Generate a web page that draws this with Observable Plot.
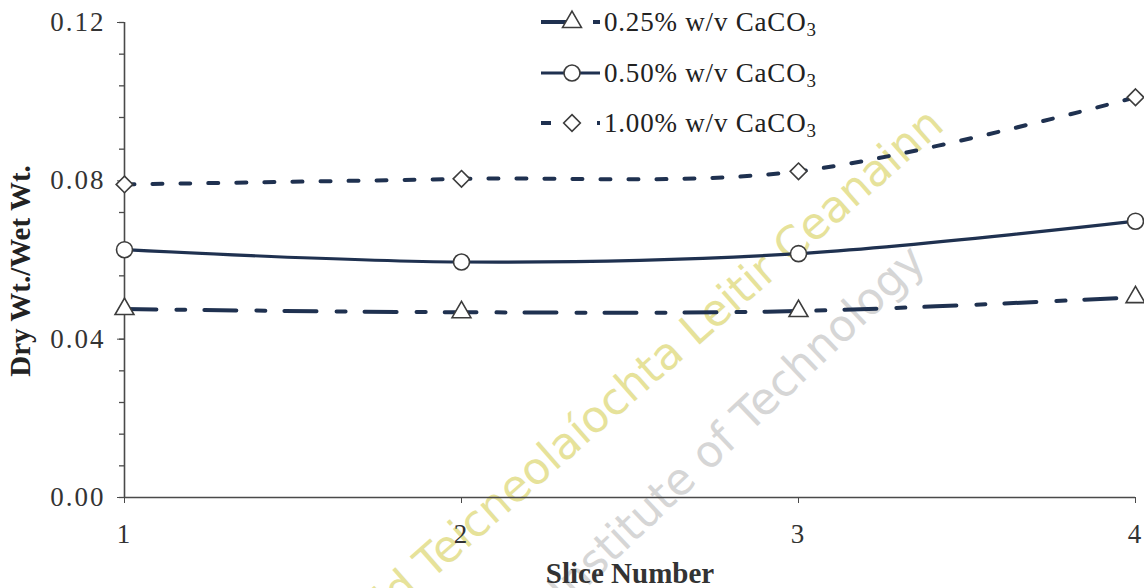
<!DOCTYPE html>
<html>
<head>
<meta charset="utf-8">
<script src="https://cdn.jsdelivr.net/npm/d3@7"></script>
<script src="https://cdn.jsdelivr.net/npm/@observablehq/plot@0.6"></script>
<style>
  body { margin: 0; background: #fff; }
  #chart { width: 1144px; height: 588px; }
</style>
</head>
<body>
<div id="chart"></div>
<script>
// Dry weight / wet weight ratio per slice for three CaCO3 concentrations
const slices = [1, 2, 3, 4];
const dry025 = [0.0476, 0.0468, 0.0471, 0.0506];
const dry050 = [0.0626, 0.0595, 0.0616, 0.0698];
const dry100 = [0.0791, 0.0805, 0.0824, 0.1011];
const seriesLabels = ["0.25% w/v CaCO", "0.50% w/v CaCO", "1.00% w/v CaCO"];
const yTicks = [0, 0.04, 0.08, 0.12];
const yMinorStep = 0.008;
const xTicks = [1, 2, 3, 4];
const yTitle = "Dry Wt./Wet Wt.";
const xTitle = "Slice Number";
const watermarkIrish = "Institiúid Teicneolaíochta Leitir Ceanainn";
const watermarkEnglish = "Letterkenny Institute of Technology";

const lineColor = "#1f3150";
const markerStroke = "#3c3c3c";
const axisColor = "#4a4a4a";
const serif = "'Liberation Serif', 'Times New Roman', serif";

const series = [
  {label: seriesLabels[0], values: dry025, symbol: "triangle", r: 7,   dash: "32,20,9,19", width: 4},
  {label: seriesLabels[1], values: dry050, symbol: "circle",   r: 8,   dash: null,          width: 3.2},
  {label: seriesLabels[2], values: dry100, symbol: "diamond2", r: 7.5, dash: "10,18",       width: 4}
];

const rows = s => slices.map((x, i) => ({slice: x, value: s.values[i]}));
const yMinor = d3.range(Math.round(yTicks[yTicks.length - 1] / yMinorStep) + 1).map(i => i * yMinorStep);

const marks = [
  Plot.ruleY([0], {stroke: axisColor, strokeWidth: 1.6}),
  Plot.ruleX([1], {stroke: axisColor, strokeWidth: 1.6}),
  Plot.axisY(yMinor, {tickSize: 5, stroke: axisColor, strokeWidth: 1.3, tickFormat: () => "", label: null}),
  Plot.axisY(yTicks, {
    tickSize: 7, tickPadding: 12, stroke: axisColor, fontSize: 27, fill: "#333",
    tickFormat: d => d.toFixed(2), label: null
  }),
  Plot.axisX(xTicks, {
    tickSize: 6, tickPadding: 20, stroke: axisColor, fontSize: 27, fill: "#333",
    tickFormat: d => String(d), label: null
  }),
  Plot.text([yTitle], {
    frameAnchor: "left", textAnchor: "middle", rotate: -90, dx: -104, dy: 11,
    fontSize: 29, fontWeight: "bold", fill: "#222"
  }),
  Plot.text([xTitle], {
    frameAnchor: "bottom", textAnchor: "middle", dy: 76, lineAnchor: "middle",
    fontSize: 29, fontWeight: "bold", fill: "#333"
  })
];

for (const s of series) {
  marks.push(Plot.line(rows(s), {
    x: "slice", y: "value", curve: "catmull-rom",
    stroke: lineColor, strokeWidth: s.width,
    strokeDasharray: s.dash || undefined
  }));
}
for (const s of series) {
  marks.push(Plot.dot(rows(s), {
    x: "slice", y: "value", symbol: s.symbol, r: s.r,
    fill: "white", stroke: markerStroke, strokeWidth: 1.6
  }));
}

const chart = Plot.plot({
  width: 1144,
  height: 588,
  marginLeft: 124,
  marginRight: 9,
  marginTop: 22,
  marginBottom: 91,
  x: {domain: [1, 4]},
  y: {domain: [0, 0.12]},
  style: {fontFamily: serif, background: "white", overflow: "visible"},
  marks
});

const svg = d3.select(chart);

// Slightly wider tick numerals
svg.selectAll('g[aria-label="y-axis tick label"] text, g[aria-label="x-axis tick label"] text')
  .attr("letter-spacing", "2px");

// Faint diagonal institutional watermark behind the data
const wm = svg.insert("g", ":first-child")
  .attr("font-family", "'DejaVu Sans', Verdana, sans-serif")
  .attr("text-anchor", "end")
  .attr("font-size", 44);
wm.append("text")
  .attr("transform", "translate(946,128) rotate(-41.3)")
  .attr("fill", "#e6e29a")
  .text(watermarkIrish);
wm.append("text")
  .attr("transform", "translate(928,264) rotate(-43.5)")
  .attr("fill", "#d6d6d6")
  .text(watermarkEnglish);

// Legend inside the plot, near the top
const legendRows = [22, 73, 123];
const legend = svg.append("g").attr("font-family", serif).attr("text-anchor", "start");
series.forEach((s, i) => {
  const y = legendRows[i];
  const g = legend.append("g").attr("transform", `translate(0,${y})`);
  g.append("line")
    .attr("x1", 541).attr("x2", 600).attr("y1", 0).attr("y2", 0)
    .attr("stroke", lineColor).attr("stroke-width", s.width)
    .attr("stroke-dasharray", s.dash);
  const sym = {triangle: d3.symbolTriangle, circle: d3.symbolCircle, diamond2: d3.symbolDiamond2}[s.symbol];
  g.append("path")
    .attr("transform", "translate(572,0)")
    .attr("d", d3.symbol(sym, Math.PI * s.r * s.r)())
    .attr("fill", "white").attr("stroke", markerStroke).attr("stroke-width", 1.6);
  const t = g.append("text")
    .attr("x", 604).attr("y", 0).attr("dy", "0.35em")
    .attr("font-size", 27).attr("fill", "#222").attr("letter-spacing", "0.8px");
  t.append("tspan").text(s.label);
  t.append("tspan").attr("font-size", 19).attr("dy", 5).text("3");
});

document.getElementById("chart").append(chart);
</script>
</body>
</html>
